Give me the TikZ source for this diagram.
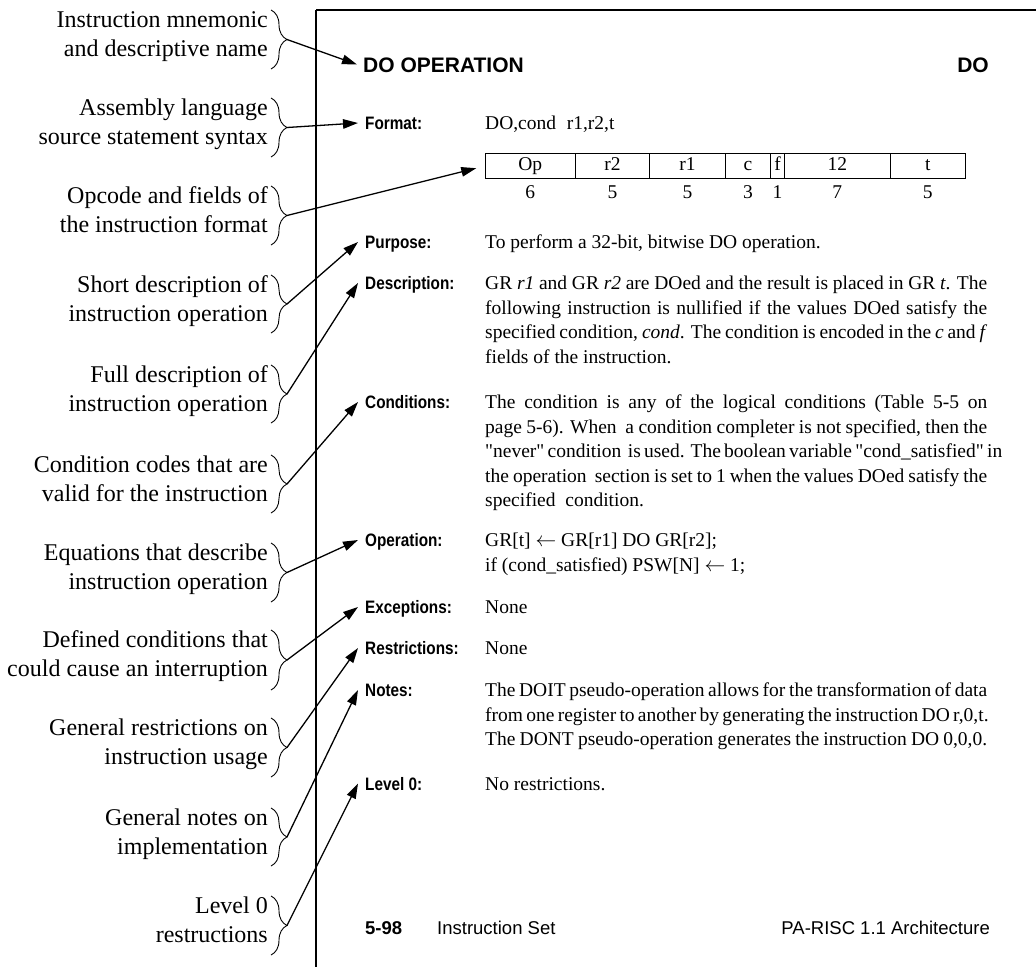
\documentclass[tikz,border=0pt]{standalone}
\usepackage{fontspec}
\setmainfont{Liberation Serif}[Ligatures=TeXOff]
\newfontfamily\hv{Liberation Sans}
\newfontfamily\hvn[FakeStretch=0.85]{Liberation Sans}
\usetikzlibrary{arrows.meta,decorations.pathreplacing,positioning}

% assignment arrow used in the operation section
\newcommand\assign{\ensuremath{\leftarrow}}

% one annotation on the left: two right-aligned lines, a brace, and the brace tip
\newcommand\callout[5]{%
  \node[lbl] (#1) at (268,#2) {\parbox[t]{265pt}{\raggedleft #4\\#5}};
  \draw[brc] (271,#2-17) -- (271,#3+13);
  \coordinate (#1tip) at (287,{(#2+#3)/2-2});
}

\begin{document}
\begin{tikzpicture}[x=1pt,y=-1pt,
  lbl/.style={anchor=base east,inner sep=0pt,font=\fontsize{24}{29}\selectfont},
  brc/.style={decorate,decoration={brace,amplitude=16pt},line width=0.9pt},
  arr/.style={-{Triangle[length=15pt,width=9.5pt]},line width=1.3pt},
  frame/.style={line width=1.3pt},
  hdr/.style={font=\hv\bfseries\fontsize{21}{24}\selectfont,inner ysep=0pt,text height=15pt,text depth=0pt},
  key/.style={anchor=base west,inner xsep=7pt,inner ysep=0pt,text height=13pt,text depth=0pt,
              font=\hvn\bfseries\fontsize{18}{20}\selectfont},
  val/.style={anchor=base west,inner sep=0pt,font=\fontsize{19.5}{24.5}\selectfont},
  cell/.style={draw,line width=0.9pt,minimum height=25pt,inner sep=0pt,outer sep=0pt,anchor=west,
               text height=13pt,text depth=4pt,font=\fontsize{19.5}{24.5}\selectfont},
  bits/.style={anchor=base,inner sep=0pt,font=\fontsize{19.5}{24.5}\selectfont},
  foot/.style={anchor=base west,inner sep=0pt,font=\hv\fontsize{18.5}{20}\selectfont}
]
\useasboundingbox[fill=white] (0,0) rectangle (1036,967);

% page edge
\draw[frame] (316,10) -- (1036,10);
\draw[frame] (316,10) -- (316,967);

% left-hand annotations
\callout{c1}{27}{56}{Instruction mnemonic}{and descriptive name}
\callout{c2}{115}{144}{Assembly language}{source statement syntax}
\callout{c3}{203}{232}{Opcode and fields of}{the instruction format}
\callout{c4}{292}{320}{Short description of}{instruction operation}
\callout{c5}{382}{410}{Full description of}{instruction operation}
\callout{c6}{472}{500}{Condition codes that are}{valid for the instruction}
\callout{c7}{560}{589}{Equations that describe}{instruction operation}
\callout{c8}{647}{677}{Defined conditions that}{could cause an interruption}
\callout{c9}{735}{764}{General restrictions on}{instruction usage}
\callout{c10}{825}{853}{General notes on}{implementation}
\callout{c11}{913}{942}{Level 0}{restructions}

% page heading
\node[hdr,anchor=base west,inner xsep=6pt] (title) at (357,72) {DO OPERATION};
\node[hdr,anchor=base east,inner xsep=0pt] (mnem) at (989,72) {DO};

% section keys
\node[key] (kfmt)  at (358,129.5) {Format:};
\node[key] (kpur)  at (358,248.5) {Purpose:};
\node[key] (kdesc) at (358,289.5) {Description:};
\node[key] (kcond) at (358,408.5) {Conditions:};
\node[key] (kop)   at (358,546.5) {Operation:};
\node[key] (kexc)  at (358,613.5) {Exceptions:};
\node[key] (kres)  at (358,654.5) {Restrictions:};
\node[key] (knote) at (358,696.5) {Notes:};
\node[key] (klev)  at (358,790) {Level 0:};

% section bodies
\node[val] (vfmt) at (485,129.5) {DO,cond\hspace{0.55em}r1,r2,t};

\node[cell,minimum width=90.5pt] (op) at (485,166) {Op};
\node[cell,minimum width=74pt,right=0pt of op] (fr2) {r2};
\node[cell,minimum width=76pt,right=0pt of fr2] (fr1) {r1};
\node[cell,minimum width=45pt,right=0pt of fr1] (fc) {c};
\node[cell,minimum width=14pt,right=0pt of fc] (ff) {f};
\node[cell,minimum width=105.5pt,right=0pt of ff] (f12) {12};
\node[cell,minimum width=75.5pt,right=0pt of f12] (ft) {t};

\node[bits] (b1) at (op |- 0,198) {6};
\node[bits] (b2) at (fr2 |- 0,198) {5};
\node[bits] (b3) at (fr1 |- 0,198) {5};
\node[bits] (b4) at (fc |- 0,198) {3};
\node[bits] (b5) at (ff |- 0,198) {1};
\node[bits] (b6) at (f12 |- 0,198) {7};
\node[bits] (b7) at (ft |- 0,198) {5};

\node[val] (vpur) at (485,248.5) {To perform a 32-bit, bitwise DO operation.};

\node[val] (vdesc) at (485,289.5) {\parbox[t]{502pt}{%
\makebox[\linewidth][s]{GR \textit{r1} and GR \textit{r2} are DOed and the result is placed in GR \textit{t}. The}\\
\makebox[\linewidth][s]{following instruction is nullified if the values DOed satisfy the}\\
\makebox[\linewidth][s]{specified condition, \textit{cond}. The condition is encoded in the \textit{c} and \textit{f}}\\
fields of the instruction.}};

\node[val] (vcond) at (485,408.5) {\parbox[t]{502pt}{%
\makebox[\linewidth][s]{The condition is any of the logical conditions (Table 5-5 on}\\
\makebox[\linewidth][s]{page 5-6). When\ \ a condition completer is not specified, then the}\\
\makebox[\linewidth][s]{"never" condition\ \ is used. The boolean variable "cond\_satisfied" in}\\
\makebox[\linewidth][s]{the operation\ \ section is set to 1 when the values DOed satisfy the}\\
specified\ \ condition.}};

\node[val] (vop) at (485,546.5) {\parbox[t]{502pt}{%
GR[t] \assign{} GR[r1] DO GR[r2];\\
if (cond\_satisfied) PSW[N] \assign{} 1;}};

\node[val] (vexc) at (485,613.5) {None};
\node[val] (vres) at (485,654.5) {None};

\node[val] (vnote) at (485,696.5) {\parbox[t]{502pt}{%
\makebox[\linewidth][s]{The DOIT pseudo-operation allows for the transformation of data}\\
\makebox[\linewidth][s]{from one register to another by generating the instruction DO r,0,t.}\\
The DONT pseudo-operation generates the instruction DO 0,0,0.}};

\node[val] (vlev) at (485,790) {No restrictions.};

% running foot
\node[foot,font=\hv\bfseries\fontsize{18.5}{20}\selectfont] (pg) at (365,934) {5-98};
\node[foot] (chap) at (437,934) {Instruction Set};
\node[foot,anchor=base east] (book) at (990,934) {PA-RISC 1.1 Architecture};

% connectors from braces to the parts of the page
\draw[arr] (c1tip) -- (title.west);
\draw[arr] (c2tip) -- (kfmt.west);
\draw[arr,shorten >=9pt] (c3tip) -- (op.west);
\draw[arr] (c4tip) -- (kpur.west);
\draw[arr] (c5tip) -- (kdesc.west);
\draw[arr] (c6tip) -- (kcond.west);
\draw[arr] (c7tip) -- (kop.west);
\draw[arr] (c8tip) -- (kexc.west);
\draw[arr] (c9tip) -- (kres.west);
\draw[arr] (c10tip) -- (knote.west);
\draw[arr] (c11tip) -- (klev.west);
\end{tikzpicture}
\end{document}
